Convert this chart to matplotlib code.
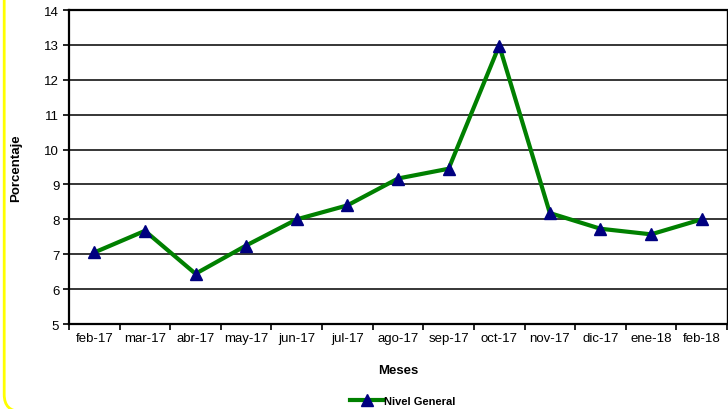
import matplotlib
matplotlib.use("Agg")
import matplotlib.pyplot as plt
import numpy as np
from matplotlib.patches import FancyBboxPatch

plt.rcParams['font.family'] = ['Liberation Sans', 'DejaVu Sans']

categories = ["feb-17", "mar-17", "abr-17", "may-17", "jun-17", "jul-17", "ago-17",
              "sep-17", "oct-17", "nov-17", "dic-17", "ene-18", "feb-18"]
values = [7.05, 7.67, 6.44, 7.25, 8.0, 8.4, 9.17, 9.45, 12.98, 8.18, 7.73, 7.57, 8.0]
yticks = [5, 6, 7, 8, 9, 10, 11, 12, 13, 14]

fig = plt.figure(figsize=(7.28, 4.10), dpi=100)

# yellow rounded border (only left edge and bottom-left corner visible)
border = FancyBboxPatch((0.042, -0.025), 8.0, 5.0,
                        boxstyle="round,pad=0,rounding_size=0.17",
                        transform=fig.dpi_scale_trans, facecolor="none",
                        edgecolor="#ffff00", linewidth=2.0)
fig.patches.append(border)

ax = fig.add_axes([69 / 728, 1 - 325 / 410, (727 - 69) / 728, (325 - 11) / 410])
x = np.arange(len(categories))
ax.set_ylim(5, 14)
ax.set_xlim(-0.5, len(categories) - 0.5)
ax.set_yticks(yticks)
ax.yaxis.grid(True, color="black", linewidth=1.1)
ax.set_axisbelow(True)

ax.plot(x, values, color="#008000", linewidth=3.0, marker="^", markersize=8.5,
        markerfacecolor="#000080", markeredgecolor="#000080", label="Nivel General",
        zorder=3, clip_on=False)

ax.set_xticks(x)
ax.set_xticklabels(categories, fontsize=9.5)
ax.tick_params(axis="x", which="major", length=0, pad=6)
ax.set_xticks(np.arange(-0.5, len(categories), 1), minor=True)
ax.tick_params(axis="x", which="minor", length=4, width=1.2, direction="out", color="black")
ax.tick_params(axis="y", length=4, width=1.2, direction="out", labelsize=9.5, pad=3)

for s in ["left", "bottom"]:
    ax.spines[s].set_linewidth(1.6)
    ax.spines[s].set_color("black")
ax.spines["top"].set_linewidth(1.6)
ax.spines["right"].set_linewidth(1.0)

ax.set_xlabel("Meses", fontsize=9.5, fontweight="bold", labelpad=14)
ax.set_ylabel("Porcentaje", fontsize=9.5, fontweight="bold", labelpad=16)

leg = fig.legend(loc="center", bbox_to_anchor=(403 / 728, 1 - 402 / 410), frameon=False,
                 prop={"size": 8, "weight": "bold"}, handlelength=3.0, handletextpad=0.05,
                 borderaxespad=0)

fig.savefig("out.png", dpi=100)
